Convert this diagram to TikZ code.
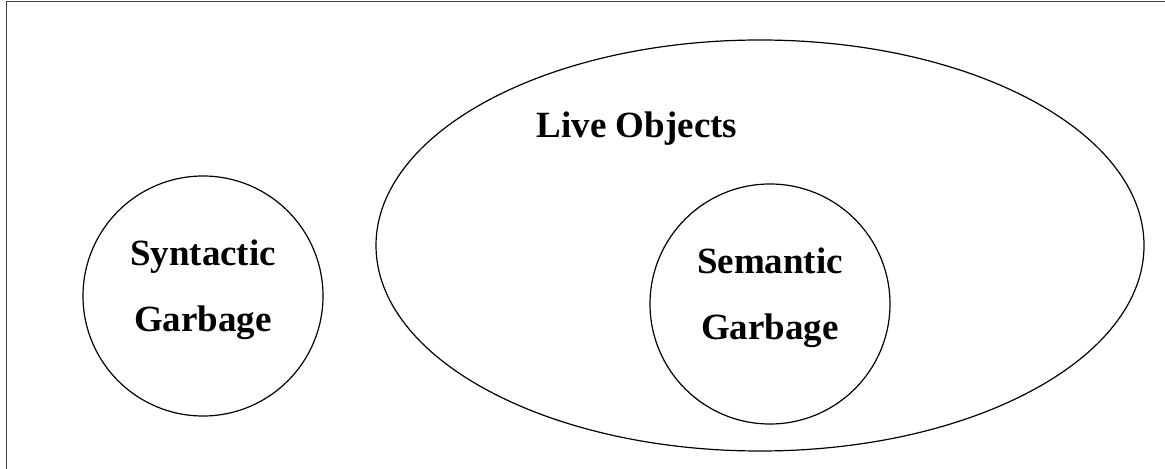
\documentclass[tikz,border=0pt]{standalone}
\usepackage{fontspec}
\setmainfont{Liberation Serif}
\usetikzlibrary{shapes.geometric,positioning}

\begin{document}
\begin{tikzpicture}[x=0.5pt, y=-0.5pt, inner sep=0pt, line width=0.6pt,
    big/.style={font=\fontsize{18.5}{33}\selectfont\bfseries},
    set/.style={draw, circle, minimum size=120pt, align=center, text depth=10pt, big}]
    \useasboundingbox (0,0) rectangle (1165,469);
    \draw[line width=0.9pt, black!75] (6.5,469) -- (6.5,1.5) -- (1165,1.5);

    \node[draw, ellipse, minimum width=384pt, minimum height=205.5pt] (liveObjects) at (760,245.5) {};
    \node[anchor=base, big] (liveLabel) at (637,138) {Live Objects};
    \node[set] (syntGarbage) at (203,296) {Syntactic\\Garbage};
    \node[set] (semGarbage) at (770,304) {Semantic\\Garbage};
\end{tikzpicture}
\end{document}
